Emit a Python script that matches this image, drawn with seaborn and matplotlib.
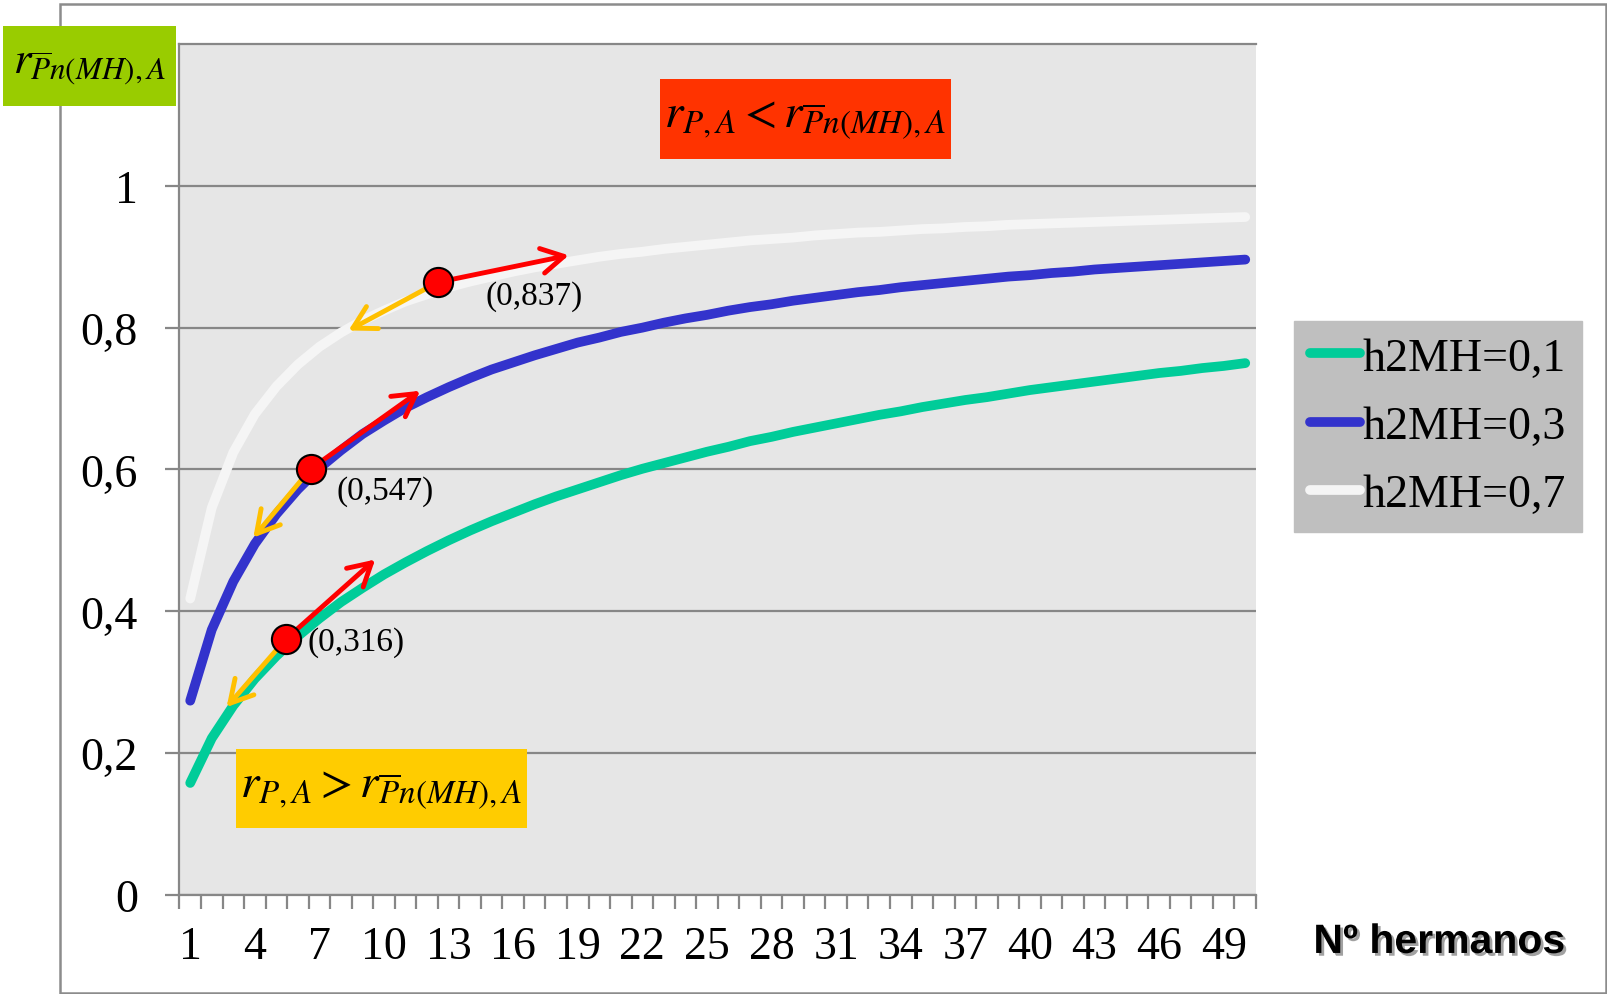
import numpy as np
import pandas as pd
import matplotlib
matplotlib.use("Agg")
import matplotlib.pyplot as plt
import matplotlib.patheffects as pe
from matplotlib.patches import Rectangle
import seaborn as sns

# numero de hermanos (eje x)
n_hermanos = list(range(1, 51))

# correlaciones
r_h01 = [0.158, 0.221, 0.267, 0.305, 0.337, 0.365, 0.390, 0.413, 0.433, 0.452,
         0.469, 0.485, 0.500, 0.514, 0.527, 0.539, 0.551, 0.562, 0.572, 0.582,
         0.592, 0.601, 0.609, 0.617, 0.625, 0.632, 0.640, 0.646, 0.653, 0.659,
         0.665, 0.671, 0.677, 0.682, 0.688, 0.693, 0.698, 0.702, 0.707, 0.712,
         0.716, 0.720, 0.724, 0.728, 0.732, 0.736, 0.739, 0.743, 0.746, 0.750]
r_h03 = [0.274, 0.374, 0.442, 0.495, 0.537, 0.572, 0.602, 0.627, 0.650, 0.669,
         0.687, 0.702, 0.716, 0.729, 0.741, 0.751, 0.761, 0.770, 0.779, 0.786,
         0.794, 0.800, 0.807, 0.813, 0.818, 0.824, 0.829, 0.833, 0.838, 0.842,
         0.846, 0.850, 0.853, 0.857, 0.860, 0.863, 0.866, 0.869, 0.872, 0.874,
         0.877, 0.879, 0.882, 0.884, 0.886, 0.888, 0.890, 0.892, 0.894, 0.896]
r_h07 = [0.418, 0.546, 0.624, 0.678, 0.717, 0.748, 0.773, 0.793, 0.810, 0.824,
         0.837, 0.847, 0.857, 0.865, 0.872, 0.879, 0.885, 0.890, 0.895, 0.900,
         0.904, 0.907, 0.911, 0.914, 0.917, 0.920, 0.923, 0.925, 0.927, 0.930,
         0.932, 0.934, 0.935, 0.937, 0.939, 0.940, 0.942, 0.943, 0.945, 0.946,
         0.947, 0.948, 0.949, 0.950, 0.951, 0.952, 0.953, 0.954, 0.955, 0.956]
series_names = ["h2MH=0,1", "h2MH=0,3", "h2MH=0,7"]
series_colors = ["#00CC99", "#3333CC", "#F5F5F5"]

# puntos marcados, flechas y etiquetas
punto_x = [5.45, 6.60, 12.50]
punto_y = [0.361, 0.601, 0.864]
flecha_roja_x = [9.59, 11.68, 18.58]
flecha_roja_y = [0.473, 0.711, 0.902]
flecha_nar_x = [2.69, 3.93, 8.35]
flecha_nar_y = [0.265, 0.504, 0.796]
etiquetas = ["(0,316)", "(0,547)", "(0,837)"]
etiqueta_x = [6.43, 7.78, 14.70]
etiqueta_y = [0.358, 0.570, 0.845]

x_labels = list(range(1, 50, 3))
y_ticks = [0, 0.2, 0.4, 0.6, 0.8, 1.0]
y_labels = ["0", "0,2", "0,4", "0,6", "0,8", "1"]

df = pd.DataFrame({
    "n": n_hermanos * 3,
    "r": r_h01 + r_h03 + r_h07,
    "serie": [s for s in series_names for _ in n_hermanos],
})

sns.set_style("white")
plt.rcParams["font.family"] = ["Liberation Serif", "DejaVu Serif"]
plt.rcParams["mathtext.fontset"] = "stix"
plt.rcParams["text.color"] = "black"
plt.rcParams["xtick.labelcolor"] = "black"
plt.rcParams["ytick.labelcolor"] = "black"

fig = plt.figure(figsize=(16.08, 9.95), dpi=100)
ax = fig.add_axes([0.1116, 0.0995, 0.6695, 0.8553])
ax.set_facecolor("#E6E6E6")

sns.lineplot(data=df, x="n", y="r", hue="serie", palette=series_colors,
             linewidth=7, ax=ax, solid_capstyle="round", zorder=3)

ax.set_xlim(0.5, 50.5)
ax.set_ylim(0, 1.2)
ax.set_xlabel("")
ax.set_ylabel("")

ax.set_yticks(y_ticks)
ax.set_yticklabels(y_labels)
ax.set_xticks(x_labels)
ax.set_xticklabels([str(v) for v in x_labels])
ax.set_xticks(np.arange(0.5, 51, 1), minor=True)

grey = "#878787"
ax.grid(axis="y", color=grey, linewidth=1.6, zorder=1)
ax.set_axisbelow(True)
for side in ["left", "bottom", "top"]:
    ax.spines[side].set_color(grey)
    ax.spines[side].set_linewidth(1.6)
ax.spines["right"].set_visible(False)

ax.tick_params(axis="y", direction="out", length=10, width=1.6, color=grey,
               labelsize=33, pad=20, left=True, labelcolor="black")
ax.tick_params(axis="x", which="major", length=0, labelsize=33, pad=22, labelcolor="black")
ax.tick_params(axis="x", which="minor", direction="out", length=10, width=1.6,
               color=grey, bottom=True)

# flechas y puntos
for i in range(3):
    ax.annotate("", xy=(flecha_roja_x[i], flecha_roja_y[i]), xytext=(punto_x[i], punto_y[i]),
                arrowprops=dict(arrowstyle="->,head_length=0.8,head_width=0.45", color="#FF0000",
                                lw=3.5, shrinkA=0, shrinkB=0, mutation_scale=20), zorder=5)
    ax.annotate("", xy=(flecha_nar_x[i], flecha_nar_y[i]), xytext=(punto_x[i], punto_y[i]),
                arrowprops=dict(arrowstyle="->,head_length=0.8,head_width=0.45", color="#FFC000",
                                lw=3.5, shrinkA=0, shrinkB=0, mutation_scale=20), zorder=5)
    ax.text(etiqueta_x[i], etiqueta_y[i], etiquetas[i], fontsize=24, va="center", ha="left",
            color="black", zorder=6)
ax.plot(punto_x, punto_y, "o", markersize=21, markerfacecolor="#FF0000",
        markeredgecolor="black", markeredgewidth=1.5, zorder=7)

# leyenda
sns.move_legend(ax, "upper left", bbox_to_anchor=(0.8047, 0.6764), bbox_transform=fig.transFigure,
                title=None, frameon=True, fancybox=False, facecolor="#BFBFBF", edgecolor="#BFBFBF",
                framealpha=1, fontsize=33, handlelength=1.1, handletextpad=0.05,
                labelspacing=0.56, borderpad=0.35, borderaxespad=0, labelcolor="black")
for h in ax.get_legend().get_lines():
    h.set_linewidth(7)
    h.set_solid_capstyle("round")

# cajas de texto
cajas = [
    ((0.0019, 0.8925), 0.1076, 0.0804, "#99CC00", r"$r_{\overline{P}n(MH),A}$", 32),
    ((0.4104, 0.8392), 0.1810, 0.0804, "#FF3300", r"$r_{P,A} < r_{\overline{P}n(MH),A}$", 34),
    ((0.1468, 0.1668), 0.1810, 0.0794, "#FFCC00", r"$r_{P,A} > r_{\overline{P}n(MH),A}$", 34),
]
for (x0, y0), w, h, col, txt, fs in cajas:
    fig.add_artist(Rectangle((x0, y0), w, h, transform=fig.transFigure,
                             facecolor=col, edgecolor="none", zorder=8))
    fig.text(x0 + w / 2, y0 + h / 2, txt, fontsize=fs, ha="center", va="center",
             color="black", zorder=9)

# marco exterior
fig.add_artist(Rectangle((0.0373, 0.001), 0.9614, 0.994, transform=fig.transFigure,
                         facecolor="none", edgecolor="#8C8C8C", linewidth=1.8, zorder=0))

fig.text(0.895, 0.0523, "Nº hermanos", fontsize=29.5, fontweight="bold", color="black",
         family=["Liberation Sans", "DejaVu Sans"], ha="center", va="center",
         path_effects=[pe.SimplePatchShadow(offset=(2, -2), shadow_rgbFace="#444444", alpha=0.5),
                       pe.Normal()])

fig.savefig("out.png", dpi=100)
